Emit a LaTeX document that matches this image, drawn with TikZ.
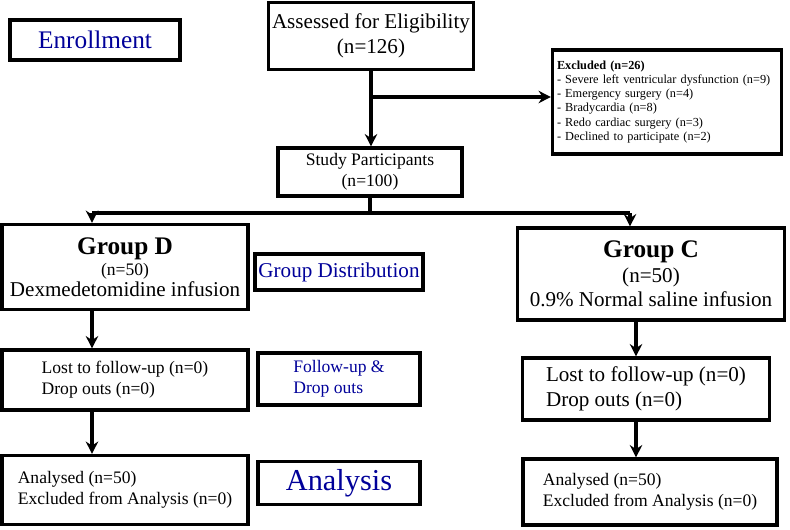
\documentclass[tikz,border=0pt]{standalone}
\usepackage{fontspec}
\setmainfont{Liberation Serif}
\usetikzlibrary{arrows.meta}
\begin{document}
\begin{tikzpicture}
    \tikzstyle{box}=[draw=black,line width=1.8pt,align=center,inner sep=2pt]
    \tikzstyle{label}=[box,text=blue!60!black]
    \tikzstyle{flow}=[line width=1.8pt,-{Stealth[length=7pt,width=7pt]}]
    \useasboundingbox (0,0) rectangle (15.8,10.58);

    \node[label,minimum width=3.4cm,minimum height=0.8cm,font=\Large] at (1.9,9.78) (enr) {Enrollment};
    \node[box,minimum width=3.76cm,minimum height=1.34cm,font=\large] at (7.42,9.86) (ass) {Assessed for Eligibility\\(n=126)};
    \node[box,minimum width=4.58cm,minimum height=2.08cm,font=\scriptsize,align=left,text width=4.4cm] at (13.34,8.54) (exc)
        {\textbf{Excluded (n=26)}\\- Severe left ventricular dysfunction (n=9)\\- Emergency surgery (n=4)\\- Bradycardia (n=8)\\- Redo cardiac surgery (n=3)\\- Declined to participate (n=2)};
    \node[box,minimum width=3.68cm,minimum height=0.96cm] at (7.4,7.14) (stu) {Study Participants\\(n=100)};
    \node[box,minimum width=4.92cm,minimum height=1.7cm] at (2.5,5.24) (gd) {\textbf{\Large Group D}\\(n=50)\\\large Dexmedetomidine infusion};
    \node[label,minimum width=3.24cm,minimum height=0.72cm,font=\large] at (6.78,5.14) (gdist) {Group Distribution};
    \node[box,minimum width=5.34cm,minimum height=1.84cm,font=\large] at (13.02,5.1) (gc) {\textbf{\Large Group C}\\(n=50)\\0.9\% Normal saline infusion};
    \node[box,minimum width=4.92cm,minimum height=1.2cm,align=left] at (2.5,2.98) (lostd) {Lost to follow-up (n=0)\\Drop outs (n=0)};
    \node[label,minimum width=3.24cm,minimum height=1.04cm,align=left] at (6.78,3.0) (fol) {Follow-up \&\\Drop outs};
    \node[box,minimum width=4.94cm,minimum height=1.24cm,font=\large,align=left] at (12.92,2.8) (lostc) {Lost to follow-up (n=0)\\Drop outs (n=0)};
    \node[box,minimum width=4.92cm,minimum height=1.38cm,align=left] at (2.5,0.78) (and) {Analysed (n=50)\\Excluded from Analysis (n=0)};
    \node[label,minimum width=3.24cm,minimum height=0.86cm,font=\LARGE] at (6.78,0.92) (ana) {Analysis};
    \node[box,minimum width=5.08cm,minimum height=1.32cm,align=left] at (13.0,0.74) (anc) {Analysed (n=50)\\Excluded from Analysis (n=0)};

    \coordinate (br) at (7.42,8.64);
    \coordinate (sp) at (7.4,6.32);
    \coordinate (spd) at (1.84,6.32);
    \coordinate (spc) at (12.6,6.32);
    \coordinate (dc) at (12.72,0);

    \draw[flow] (ass) -- (stu.north -| ass);
    \draw[flow] (br) -- (br -| exc.west);
    \draw[line width=1.8pt] (stu) -- (sp);
    \draw[line width=1.8pt] (spd) -- (spc);
    \draw[flow] (spd) -- (spd |- gd.north);
    \draw[flow] (spc) -- (spc |- gc.north);
    \draw[flow] (gd.south -| spd) -- (lostd.north -| spd);
    \draw[flow] (lostd.south -| spd) -- (and.north -| spd);
    \draw[flow] (gc.south -| dc) -- (lostc.north -| dc);
    \draw[flow] (lostc.south -| dc) -- (anc.north -| dc);
\end{tikzpicture}
\end{document}
